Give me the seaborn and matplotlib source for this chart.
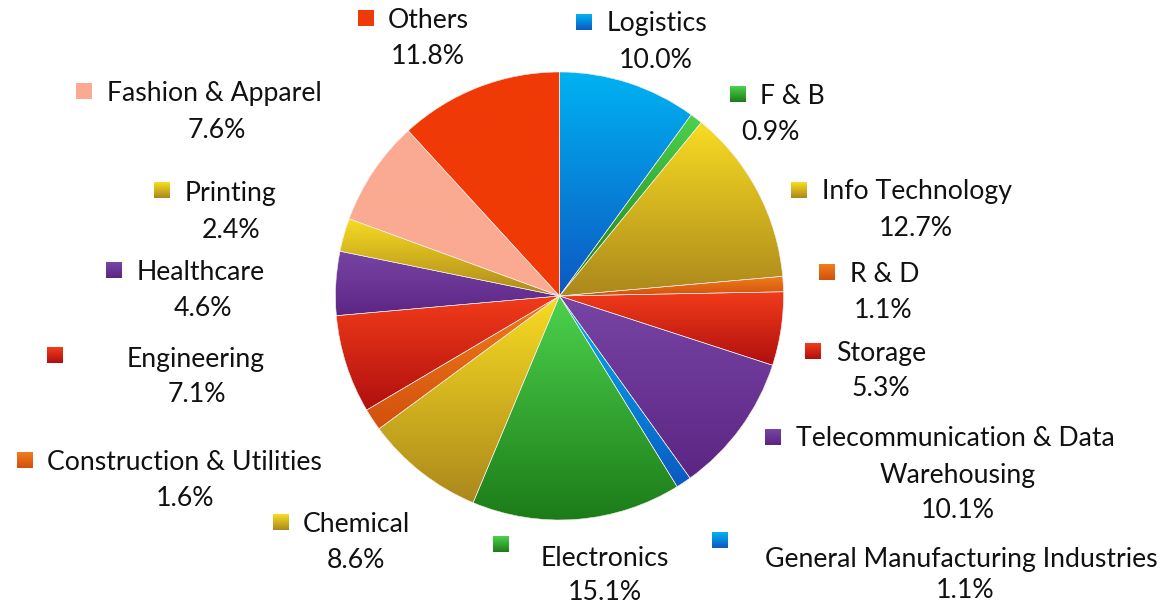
import numpy as np
import matplotlib
matplotlib.use("Agg")
import matplotlib.pyplot as plt
import seaborn as sns
from matplotlib.colors import to_rgb

# ---------------- data ----------------
categories = ["Logistics", "F & B", "Info Technology", "R & D", "Storage",
              "Telecommunication & Data Warehousing", "General Manufacturing Industries",
              "Electronics", "Chemical", "Construction & Utilities", "Engineering",
              "Healthcare", "Printing", "Fashion & Apparel", "Others"]
shares = [10.0, 0.9, 12.7, 1.1, 5.3, 10.1, 1.1, 15.1, 8.6, 1.6, 7.1, 4.6, 2.4, 7.6, 11.8]
name_lines = [["Logistics"], ["F & B"], ["Info Technology"], ["R & D"], ["Storage"],
              ["Telecommunication & Data", "Warehousing"], ["General Manufacturing Industries"],
              ["Electronics"], ["Chemical"], ["Construction & Utilities"], ["Engineering"],
              ["Healthcare"], ["Printing"], ["Fashion & Apparel"], ["Others"]]

# ---------------- styles ----------------
BLUE = ("#00B2F2", "#0D58C2")
GREEN = ("#4DD24D", "#1C7C18")
GOLD = ("#F8DC22", "#AB881C")
ORANGE = ("#EF7E1C", "#D2500E")
RED = ("#F23C1A", "#B00F0F")
PURPLE = ("#7845A4", "#5C2584")
grad_colors = [BLUE, GREEN, GOLD, ORANGE, RED, PURPLE, BLUE, GREEN, GOLD, ORANGE,
               RED, PURPLE, GOLD, ("#FBAA92", "#FBAA92"), ("#F03A06", "#F03A06")]

# label layout (image pixel coords): square centre, name-line anchors, percentage centre
label_layout = [
    dict(sq=(584, 22), lines=[(607, 22, "left")], pct=(656, 58)),
    dict(sq=(738, 94), lines=[(760, 94, "left")], pct=(770, 130)),
    dict(sq=(799, 190), lines=[(822, 190, "left")], pct=(916, 226)),
    dict(sq=(827, 272), lines=[(850, 272, "left")], pct=(883, 308)),
    dict(sq=(813, 351), lines=[(836, 351, "left")], pct=(881, 387)),
    dict(sq=(773, 437), lines=[(796, 437, "left"), (958, 473, "center")], pct=(958, 509)),
    dict(sq=(720, 540), lines=[(765, 557, "left")], pct=(965, 589)),
    dict(sq=(501, 544), lines=[(541, 557, "left")], pct=(605, 591)),
    dict(sq=(281, 522), lines=[(303, 523, "left")], pct=(356, 559)),
    dict(sq=(25, 460), lines=[(47, 461, "left")], pct=(185, 497)),
    dict(sq=(55, 355), lines=[(127, 357, "left")], pct=(197, 393)),
    dict(sq=(114, 270), lines=[(137, 271, "left")], pct=(203, 307)),
    dict(sq=(162, 190), lines=[(185, 191, "left")], pct=(231, 228)),
    dict(sq=(84, 91), lines=[(107, 92, "left")], pct=(217, 128)),
    dict(sq=(366, 18), lines=[(388, 18, "left")], pct=(428, 54)),
]

W, H = 1171, 606
sns.set_theme(style="white")
plt.rcParams["font.family"] = ["Lato", "DejaVu Sans"]

fig = plt.figure(figsize=(W / 100, H / 100), dpi=100)
fig.patch.set_facecolor("white")
ax = fig.add_axes([0, 0, 1, 1])


def fy(y):
    return H - y


def gradient_image(top, bottom, n=256):
    t = np.linspace(0, 1, n)[:, None]
    a, b = np.array(to_rgb(bottom)), np.array(to_rgb(top))
    img = a[None, :] * (1 - t) + b[None, :] * t
    return img[:, None, :]


cx, cy, r = 559.5, fy(296), 224
wedges, _ = ax.pie(shares, startangle=90, counterclock=False, center=(cx, cy), radius=r,
                   wedgeprops=dict(facecolor="none", edgecolor="#F4EDEA", linewidth=0.4),
                   frame=True)
for w, (top, bot) in zip(wedges, grad_colors):
    ext = w.get_path().get_extents()
    im = ax.imshow(gradient_image(top, bot), extent=[ext.x0, ext.x1, ext.y0, ext.y1],
                   origin="lower", aspect="auto", zorder=0.5, interpolation="bilinear")
    im.set_clip_path(w)
    w.set_zorder(1)

# fit font size so a reference label has the reference's width
probe = ax.text(0, 0, "Construction & Utilities", fontsize=20)
renderer = fig.canvas.get_renderer()
pw = probe.get_window_extent(renderer).width
probe.remove()
fs = 20 * 275 / pw

sq = 16
for lines, val, lay, (top, bot) in zip(name_lines, shares, label_layout, grad_colors):
    sx, sy = lay["sq"]
    ax.imshow(gradient_image(top, bot, 32),
              extent=[sx - sq / 2, sx + sq / 2, fy(sy + sq / 2), fy(sy - sq / 2)],
              origin="lower", aspect="auto", zorder=2)
    for txt, (lx, ly, ha) in zip(lines, lay["lines"]):
        ax.text(lx, fy(ly + 9.5), txt, ha=ha, va="baseline", fontsize=fs, color="#111111")
    px, py = lay["pct"]
    ax.text(px, fy(py + 9.5), f"{val:.1f}%", ha="center", va="baseline", fontsize=fs,
            color="#111111")

ax.set_xlim(0, W)
ax.set_ylim(0, H)
ax.set_aspect("equal")
ax.axis("off")
fig.savefig("out.png", dpi=100, facecolor="white")
